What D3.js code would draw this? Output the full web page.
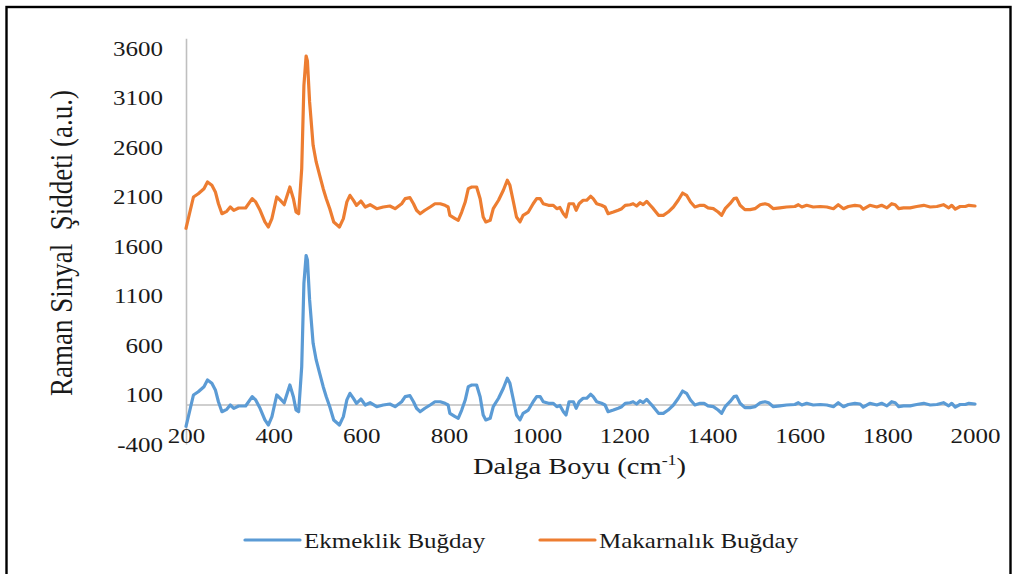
<!DOCTYPE html>
<html>
<head>
<meta charset="utf-8">
<script src="https://cdn.jsdelivr.net/npm/d3@7"></script>
<style>
  html, body { margin: 0; padding: 0; background: #fff; }
  svg { display: block; }
</style>
</head>
<body>
<svg id="chart" width="1018" height="574"></svg>
<script>
// Raman shift (cm-1) sample positions
const wavenumbers = [
  200,217,228,241,249,259,267,274,282,293,
  301,309,320,336,351,359,369,380,388,396,
  407,415,424,437,445,451,457,464,469,474,
  477,482,490,497,505,513,520,528,537,550,
  559,567,574,582,589,599,609,620,635,650,
  665,677,692,700,711,719,726,734,745,757,
  768,780,791,798,802,814,821,829,837,844,
  852,863,871,878,884,894,901,913,924,933,
  939,947,954,962,969,981,992,1000,1008,1015,
  1027,1038,1046,1053,1061,1067,1074,1084,1090,1097,
  1106,1114,1123,1129,1137,1148,1156,1163,1175,1186,
  1194,1202,1213,1220,1228,1236,1243,1251,1259,1266,
  1278,1289,1300,1312,1323,1333,1342,1351,1361,1373,
  1382,1391,1403,1414,1422,1430,1441,1450,1456,1464,
  1475,1487,1498,1510,1521,1529,1540,1555,1570,1589,
  1597,1605,1616,1631,1647,1662,1677,1688,1700,1711,
  1726,1738,1745,1760,1776,1787,1799,1810,1818,1826,
  1837,1852,1867,1883,1898,1913,1928,1940,1947,1955,
  1966,1978,1986,2000
];

// Ekmeklik Buğday (bread wheat) intensities
const ekmeklik = [
  -220,96,129,180,248,214,147,28,-73,-49,
  -5,-39,-15,-15,79,46,-39,-156,-207,-123,
  96,62,18,197,79,-55,-73,382,1224,1505,
  1460,1056,618,450,315,180,79,-22,-156,-207,
  -123,46,113,62,12,55,-5,18,-22,-5,
  5,-22,28,79,89,28,-38,-73,-38,-5,
  28,28,12,-5,-89,-123,-139,-56,45,180,
  197,197,79,-106,-156,-139,-22,63,164,265,
  214,45,-106,-156,-89,-56,28,79,79,28,
  12,12,-22,-10,-73,-106,28,28,-38,28,
  63,63,103,79,28,12,-5,-73,-56,-38,
  -22,12,18,28,5,38,18,52,12,-22,
  -89,-89,-56,-5,63,136,113,45,-5,12,
  12,-14,-22,-56,-89,-22,28,79,85,12,
  -32,-32,-22,18,28,18,-22,-14,-5,0,
  18,-5,12,-5,0,-5,-22,18,-22,0,
  12,5,-27,12,-5,12,-14,28,18,-22,
  -14,-14,0,12,-5,0,18,-14,12,-27,
  0,0,12,5
];

// Makarnalık Buğday (durum wheat) intensities
const makarnalik = [
  1780,2096,2129,2180,2248,2214,2147,2028,1927,1951,
  1995,1961,1985,1985,2079,2046,1961,1844,1793,1877,
  2096,2062,2018,2197,2079,1945,1927,2382,3224,3520,
  3470,3056,2618,2450,2315,2180,2079,1978,1844,1793,
  1877,2046,2113,2062,2012,2055,1995,2018,1978,1995,
  2005,1978,2028,2079,2089,2028,1962,1927,1962,1995,
  2028,2028,2012,1995,1911,1877,1861,1944,2045,2180,
  2197,2197,2079,1894,1844,1861,1978,2063,2164,2265,
  2214,2045,1894,1844,1911,1944,2028,2079,2079,2028,
  2012,2012,1978,1990,1927,1894,2028,2028,1962,2028,
  2063,2063,2103,2079,2028,2012,1995,1927,1944,1962,
  1978,2012,2018,2028,2005,2038,2018,2052,2012,1978,
  1911,1911,1944,1995,2063,2136,2113,2045,1995,2012,
  2012,1986,1978,1944,1911,1978,2028,2079,2085,2012,
  1968,1968,1978,2018,2028,2018,1978,1986,1995,2000,
  2018,1995,2012,1995,2000,1995,1978,2018,1978,2000,
  2012,2005,1973,2012,1995,2012,1986,2028,2018,1978,
  1986,1986,2000,2012,1995,2000,2018,1986,2012,1973,
  2000,2000,2012,2005
];

const xTicks = [200,400,600,800,1000,1200,1400,1600,1800,2000];
const yTicks = [-400,100,600,1100,1600,2100,2600,3100,3600];
const seriesNames = ["Ekmeklik Buğday", "Makarnalık Buğday"];
const seriesColors = ["#5B9BD5", "#ED7D31"];

const FONT = '"Liberation Serif", "Times New Roman", serif';
const INK = "#1a1a1a";
// horizontal stretch applied to all text
const SX = 1.19;

const svg = d3.select("#chart");

// outer frame
svg.append("rect")
  .attr("x", 6.5).attr("y", 7)
  .attr("width", 1004).attr("height", 600)
  .attr("fill", "none").attr("stroke", "#000").attr("stroke-width", 2.4);

const x = d3.scaleLinear().domain([200, 2000]).range([186, 975]);
const y = d3.scaleLinear().domain([-400, 3700]).range([444.1, 38.2]);

// y axis
const yAxis = svg.append("g")
  .attr("transform", "translate(186,0)")
  .call(d3.axisLeft(y).tickValues(yTicks).tickSize(0).tickSizeOuter(0).tickFormat(d => String(d)));
yAxis.select(".domain").attr("stroke", "#BFBFBF").attr("stroke-width", 1.6);
yAxis.selectAll(".tick text")
  .attr("x", null).attr("dy", null)
  .attr("transform", `translate(-23,7) scale(${SX},1)`)
  .attr("text-anchor", "end")
  .attr("font-family", FONT)
  .attr("font-size", 21).attr("fill", INK);

// x axis crossing at zero
const xAxis = svg.append("g")
  .attr("transform", `translate(0,${y(0)})`)
  .call(d3.axisBottom(x).tickValues(xTicks).tickSize(0).tickSizeOuter(0).tickFormat(d => String(d)));
xAxis.select(".domain").attr("stroke", "#BFBFBF").attr("stroke-width", 1.6);
xAxis.selectAll(".tick text")
  .attr("y", null).attr("dy", null)
  .attr("transform", `translate(0,${443 - y(0)}) scale(${SX},1)`)
  .attr("text-anchor", "middle")
  .attr("font-family", FONT)
  .attr("font-size", 21).attr("fill", INK);

// spectra
const line = d3.line().x(d => x(d[0])).y(d => y(d[1])).curve(d3.curveLinear);
[ekmeklik, makarnalik].forEach((vals, i) => {
  svg.append("path")
    .datum(wavenumbers.map((w, j) => [w, vals[j]]))
    .attr("d", line)
    .attr("fill", "none")
    .attr("stroke", seriesColors[i])
    .attr("stroke-width", 3.2)
    .attr("stroke-linejoin", "round")
    .attr("stroke-linecap", "round");
});

// axis titles
const xt = svg.append("text")
  .attr("transform", `translate(473,474) scale(${SX},1)`)
  .attr("font-family", FONT).attr("fill", INK)
  .attr("font-size", 24);
xt.append("tspan").text("Dalga Boyu (cm");
xt.append("tspan").attr("dy", -9).attr("font-size", 15).text("-1");
xt.append("tspan").attr("dy", 9).text(")");

svg.append("text")
  .attr("transform", `translate(72,243) rotate(-90) scale(1,${SX})`)
  .attr("text-anchor", "middle")
  .attr("font-family", FONT).attr("fill", INK)
  .attr("font-size", 27)
  .style("white-space", "pre")
  .text("Raman Sinyal  Şiddeti (a.u.)");

// legend
const legendX = [245, 540];
seriesNames.forEach((name, i) => {
  const g = svg.append("g");
  g.append("line")
    .attr("x1", legendX[i]).attr("x2", legendX[i] + 55)
    .attr("y1", 540).attr("y2", 540)
    .attr("stroke", seriesColors[i]).attr("stroke-width", 3.2)
    .attr("stroke-linecap", "round");
  g.append("text")
    .attr("transform", `translate(${legendX[i] + 59},548) scale(${SX},1)`)
    .attr("font-family", FONT).attr("fill", INK)
    .attr("font-size", 21)
    .text(name);
});
</script>
</body>
</html>
